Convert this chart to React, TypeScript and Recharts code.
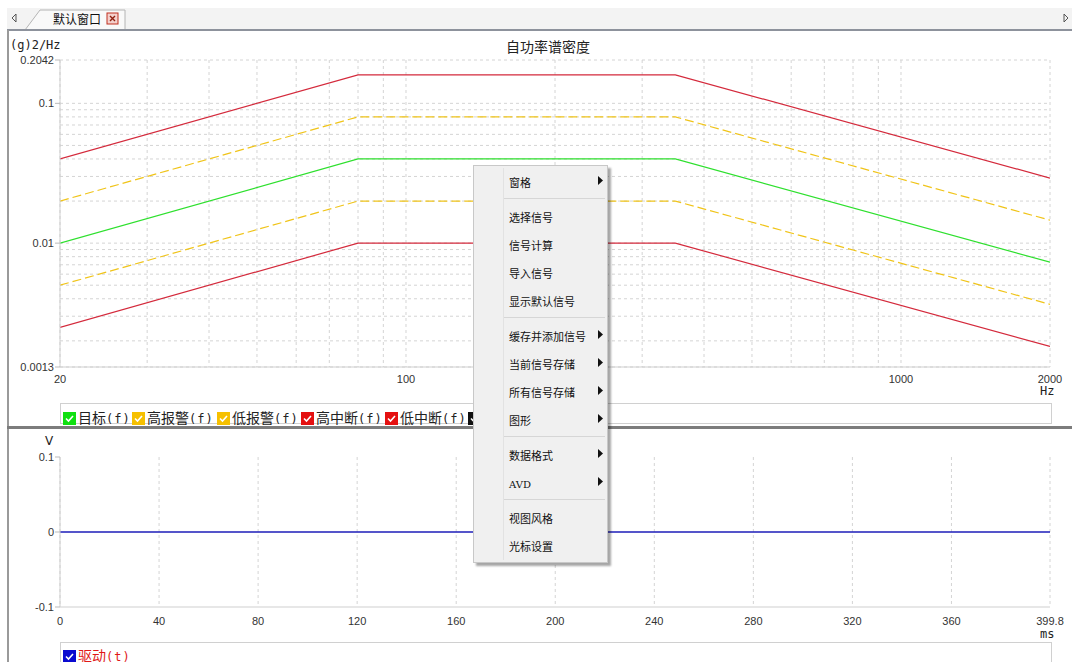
import { CartesianGrid, Line, LineChart, XAxis, YAxis } from 'recharts';

// PSD profile breakpoints (Hz) and levels (g²/Hz)
const freq = [20, 80, 350, 2000];
const target = [0.01, 0.04, 0.04, 0.0073];
const highAlarm = [0.02, 0.08, 0.08, 0.0146];
const lowAlarm = [0.005, 0.02, 0.02, 0.00365];
const highAbort = [0.04, 0.16, 0.16, 0.0292];
const lowAbort = [0.0025, 0.01, 0.01, 0.001825];

const xGridTicks = [20, 30, 40, 50, 60, 70, 80, 90, 100, 200, 300, 400, 500, 600, 700, 800, 900, 1000, 2000];
const xLabelTicks = [20, 100, 1000, 2000];
const yGridTicks = [
  0.0013, 0.002, 0.003, 0.004, 0.005, 0.006, 0.007, 0.008, 0.009, 0.01, 0.02, 0.03, 0.04, 0.05, 0.06, 0.07,
  0.08, 0.09, 0.1, 0.2042,
];
const yLabelTicks = [0.0013, 0.01, 0.1, 0.2042];

// drive signal (time in ms, volts)
const driveTime = [0, 40, 80, 120, 160, 200, 240, 280, 320, 360, 399.8];
const driveValue = [0, 0, 0, 0, 0, 0, 0, 0, 0, 0, 0];
const timeTicks = [0, 40, 80, 120, 160, 200, 240, 280, 320, 360, 399.8];
const voltTicks = [-0.1, 0, 0.1];

const psdData = freq.map((f, i) => ({
  f,
  target: target[i],
  highAlarm: highAlarm[i],
  lowAlarm: lowAlarm[i],
  highAbort: highAbort[i],
  lowAbort: lowAbort[i],
}));
const driveData = driveTime.map((t, i) => ({ t, v: driveValue[i] }));

const topLegend = [
  { name: '目标', color: '#10e010', left: 2 },
  { name: '高报警', color: '#f6c000', left: 71 },
  { name: '低报警', color: '#f6c000', left: 156 },
  { name: '高中断', color: '#e41010', left: 240 },
  { name: '低中断', color: '#e41010', left: 324 },
  { name: '驱动', color: '#111111', left: 407 },
];

const menuItems: (string | null)[] = [
  '窗格>',
  null,
  '选择信号',
  '信号计算',
  '导入信号',
  '显示默认信号',
  null,
  '缓存并添加信号>',
  '当前信号存储>',
  '所有信号存储>',
  '图形>',
  null,
  '数据格式>',
  'AVD>',
  null,
  '视图风格',
  '光标设置',
];

const tickFont = '"Liberation Sans", Arial, sans-serif';
const cjk = '"Noto Sans CJK SC", sans-serif';
const mono = '"DejaVu Sans Mono", monospace';
const gridColor = '#d4d4d4';
const red = '#d42a3c';
const yellow = '#f0c419';

function XTick(props: any) {
  const { x, y, payload, labels, dy } = props;
  if (!labels.includes(payload.value)) return null;
  return (
    <text x={x} y={y + dy} textAnchor="middle" fontSize={11} fontFamily={tickFont} fill="#333">
      {payload.value}
    </text>
  );
}

function YTick(props: any) {
  const { x, y, payload, labels } = props;
  if (!labels.includes(payload.value)) return null;
  return (
    <g>
      <line x1={x - 5} x2={x} y1={y} y2={y} stroke="#bbb" />
      <text x={x - 6} y={y + 4} textAnchor="end" fontSize={11} fontFamily={tickFont} fill="#333">
        {payload.value}
      </text>
    </g>
  );
}

function CheckBox({ color }: { color: string }) {
  return (
    <svg width={13} height={13} style={{ marginRight: 2, verticalAlign: -2 }}>
      <rect x={0} y={0} width={13} height={13} fill={color} />
      <path d="M3 6.5 L5.5 9 L10 4" stroke="#fff" strokeWidth={1.6} fill="none" />
    </svg>
  );
}

function LegendItem({ name, suffix, color, textColor }: { name: string; suffix: string; color: string; textColor: string }) {
  return (
    <span style={{ whiteSpace: 'nowrap', fontSize: 14, lineHeight: '18px', color: textColor }}>
      <CheckBox color={color} />
      {name}
      <span style={{ fontFamily: mono, fontSize: 12, letterSpacing: 1 }}>{suffix}</span>
    </span>
  );
}

function Menu() {
  let y = 0;
  const rows = menuItems.map((item, i) => {
    if (item === null) {
      const el = (
        <div key={i} style={{ position: 'absolute', left: 30, right: 2, top: y + 4, height: 1, background: '#d6d6d6' }} />
      );
      y += 7;
      return el;
    }
    const sub = item.endsWith('>');
    const label = sub ? item.slice(0, -1) : item;
    const isAvd = label === 'AVD';
    const el = (
      <div key={i} style={{ position: 'absolute', left: 35, top: y, height: 28, lineHeight: '28px', width: 95 }}>
        <span
          style={{
            fontSize: isAvd ? 10 : 11,
            fontFamily: isAvd ? '"DejaVu Serif", serif' : cjk,
            color: '#111',
          }}
        >
          {label}
        </span>
        {sub && (
          <svg width={6} height={9} style={{ position: 'absolute', left: 89, top: 10 }}>
            <path d="M0 0 L5 4.5 L0 9 Z" fill="#111" />
          </svg>
        )}
      </div>
    );
    y += 28;
    return el;
  });
  return (
    <div
      style={{
        position: 'absolute',
        left: 473,
        top: 165,
        width: 133,
        height: 396,
        background: '#f0f0f0',
        border: '1px solid #c8c8c8',
        boxShadow: '3px 3px 2px rgba(0,0,0,0.35)',
      }}
    >
      <div style={{ position: 'absolute', left: 29, top: 2, bottom: 2, width: 1, background: '#e2e2e2' }} />
      {rows}
    </div>
  );
}

export default function App() {
  return (
    <div
      style={{
        position: 'absolute',
        left: 0,
        top: 0,
        width: 1072,
        height: 662,
        overflow: 'hidden',
        background: '#fff',
        fontFamily: cjk,
      }}
    >
      {/* tab bar */}
      <div style={{ position: 'absolute', left: 7, top: 8, width: 1065, height: 22, background: '#f3f3f3' }}>
        <svg width={1065} height={22} style={{ position: 'absolute', left: 0, top: 0 }}>
          <path d="M18 22 L33 2 L118 2 L118 22" fill="#f9f9f9" stroke="#b4b4b4" />
          <path d="M9 6 L5 10 L9 14 Z" fill="none" stroke="#555" />
          <path d="M1057 6 L1061 10 L1057 14 Z" fill="none" stroke="#555" />
          <rect x={100} y={5} width={11} height={11} fill="#f4d0cc" stroke="#c03020" />
          <path d="M103 8 L108 13 M108 8 L103 13" stroke="#902010" strokeWidth={1.4} />
        </svg>
        <div style={{ position: 'absolute', left: 46, top: 2, fontSize: 12, color: '#111' }}>默认窗口</div>
      </div>
      <div style={{ position: 'absolute', left: 7, top: 29, width: 1065, height: 2, background: '#8d929c' }} />
      <div style={{ position: 'absolute', left: 7, top: 30, width: 2, height: 632, background: '#9a9a9a' }} />
      <div style={{ position: 'absolute', left: 7, top: 426, width: 1065, height: 3, background: '#7c7c7c' }} />

      {/* top chart */}
      <div style={{ position: 'absolute', left: 10, top: 38, fontSize: 12, fontFamily: mono, color: '#222' }}>
        (g)2/Hz
      </div>
      <div style={{ position: 'absolute', left: 0, width: 1096, top: 36, textAlign: 'center', fontSize: 14, color: '#222' }}>
        自功率谱密度
      </div>
      <div style={{ position: 'absolute', left: 0, top: 30 }}>
        <LineChart width={1072} height={367} data={psdData} margin={{ top: 30, right: 22, bottom: 0, left: 10 }}>
          <CartesianGrid stroke={gridColor} strokeDasharray="3 3" />
          <XAxis
            dataKey="f"
            type="number"
            scale="log"
            domain={[20, 2000]}
            allowDataOverflow
            ticks={xGridTicks}
            interval={0}
            height={30}
            stroke="#cfcfcf"
            tickLine={false}
            tickSize={0}
            tickMargin={0}
            tick={<XTick labels={xLabelTicks} dy={16} />}
          />
          <YAxis
            type="number"
            scale="log"
            domain={[0.0013, 0.2042]}
            allowDataOverflow
            ticks={yGridTicks}
            interval={0}
            width={50}
            stroke="#cfcfcf"
            tickLine={false}
            tickSize={0}
            tickMargin={0}
            tick={<YTick labels={yLabelTicks} />}
          />
          <Line dataKey="highAbort" stroke={red} strokeWidth={1.2} dot={false} isAnimationActive={false} />
          <Line dataKey="highAlarm" stroke={yellow} strokeWidth={1.2} strokeDasharray="9 4" dot={false} isAnimationActive={false} />
          <Line dataKey="target" stroke="#2ee02e" strokeWidth={1.2} dot={false} isAnimationActive={false} />
          <Line dataKey="lowAlarm" stroke={yellow} strokeWidth={1.2} strokeDasharray="9 4" dot={false} isAnimationActive={false} />
          <Line dataKey="lowAbort" stroke={red} strokeWidth={1.2} dot={false} isAnimationActive={false} />
        </LineChart>
      </div>
      <div style={{ position: 'absolute', left: 1040, top: 385, fontSize: 12, lineHeight: '12px', fontFamily: mono, color: '#222' }}>
        Hz
      </div>
      <div
        style={{
          position: 'absolute',
          left: 60,
          top: 403,
          width: 990,
          height: 19,
          border: '1px solid #d0d0d0',
          background: '#fff',
        }}
      >
        {topLegend.map((it) => (
          <div key={it.name} style={{ position: 'absolute', left: it.left, top: 0 }}>
            <LegendItem name={it.name} suffix="(f)" color={it.color} textColor="#222" />
          </div>
        ))}
      </div>

      {/* bottom chart */}
      <div style={{ position: 'absolute', left: 45, top: 434, fontSize: 12, fontFamily: '"DejaVu Sans", sans-serif', color: '#222' }}>
        V
      </div>
      <div style={{ position: 'absolute', left: 0, top: 430 }}>
        <LineChart width={1072} height={207} data={driveData} margin={{ top: 27, right: 22, bottom: 0, left: 10 }}>
          <CartesianGrid stroke={gridColor} strokeDasharray="3 3" horizontal={false} />
          <XAxis
            dataKey="t"
            type="number"
            domain={[0, 399.8]}
            ticks={timeTicks}
            interval={0}
            height={30}
            stroke="#cfcfcf"
            tickLine={false}
            tickSize={0}
            tickMargin={0}
            tick={<XTick labels={timeTicks} dy={18} />}
          />
          <YAxis
            type="number"
            domain={[-0.1, 0.1]}
            ticks={voltTicks}
            interval={0}
            width={50}
            stroke="#cfcfcf"
            tickLine={false}
            tickSize={0}
            tickMargin={0}
            tick={<YTick labels={voltTicks} />}
          />
          <Line dataKey="v" stroke="#1c1cb8" strokeWidth={1.3} dot={false} isAnimationActive={false} />
        </LineChart>
      </div>
      <div style={{ position: 'absolute', left: 1040, top: 628, fontSize: 12, lineHeight: '12px', fontFamily: mono, color: '#222' }}>
        ms
      </div>
      <div
        style={{
          position: 'absolute',
          left: 60,
          top: 642,
          width: 990,
          height: 30,
          border: '1px solid #d0d0d0',
          background: '#fff',
        }}
      >
        <div style={{ position: 'absolute', left: 2, top: -1 }}>
          <LegendItem name="驱动" suffix="(t)" color="#0a0ad0" textColor="#e01818" />
        </div>
      </div>

      <Menu />
    </div>
  );
}
